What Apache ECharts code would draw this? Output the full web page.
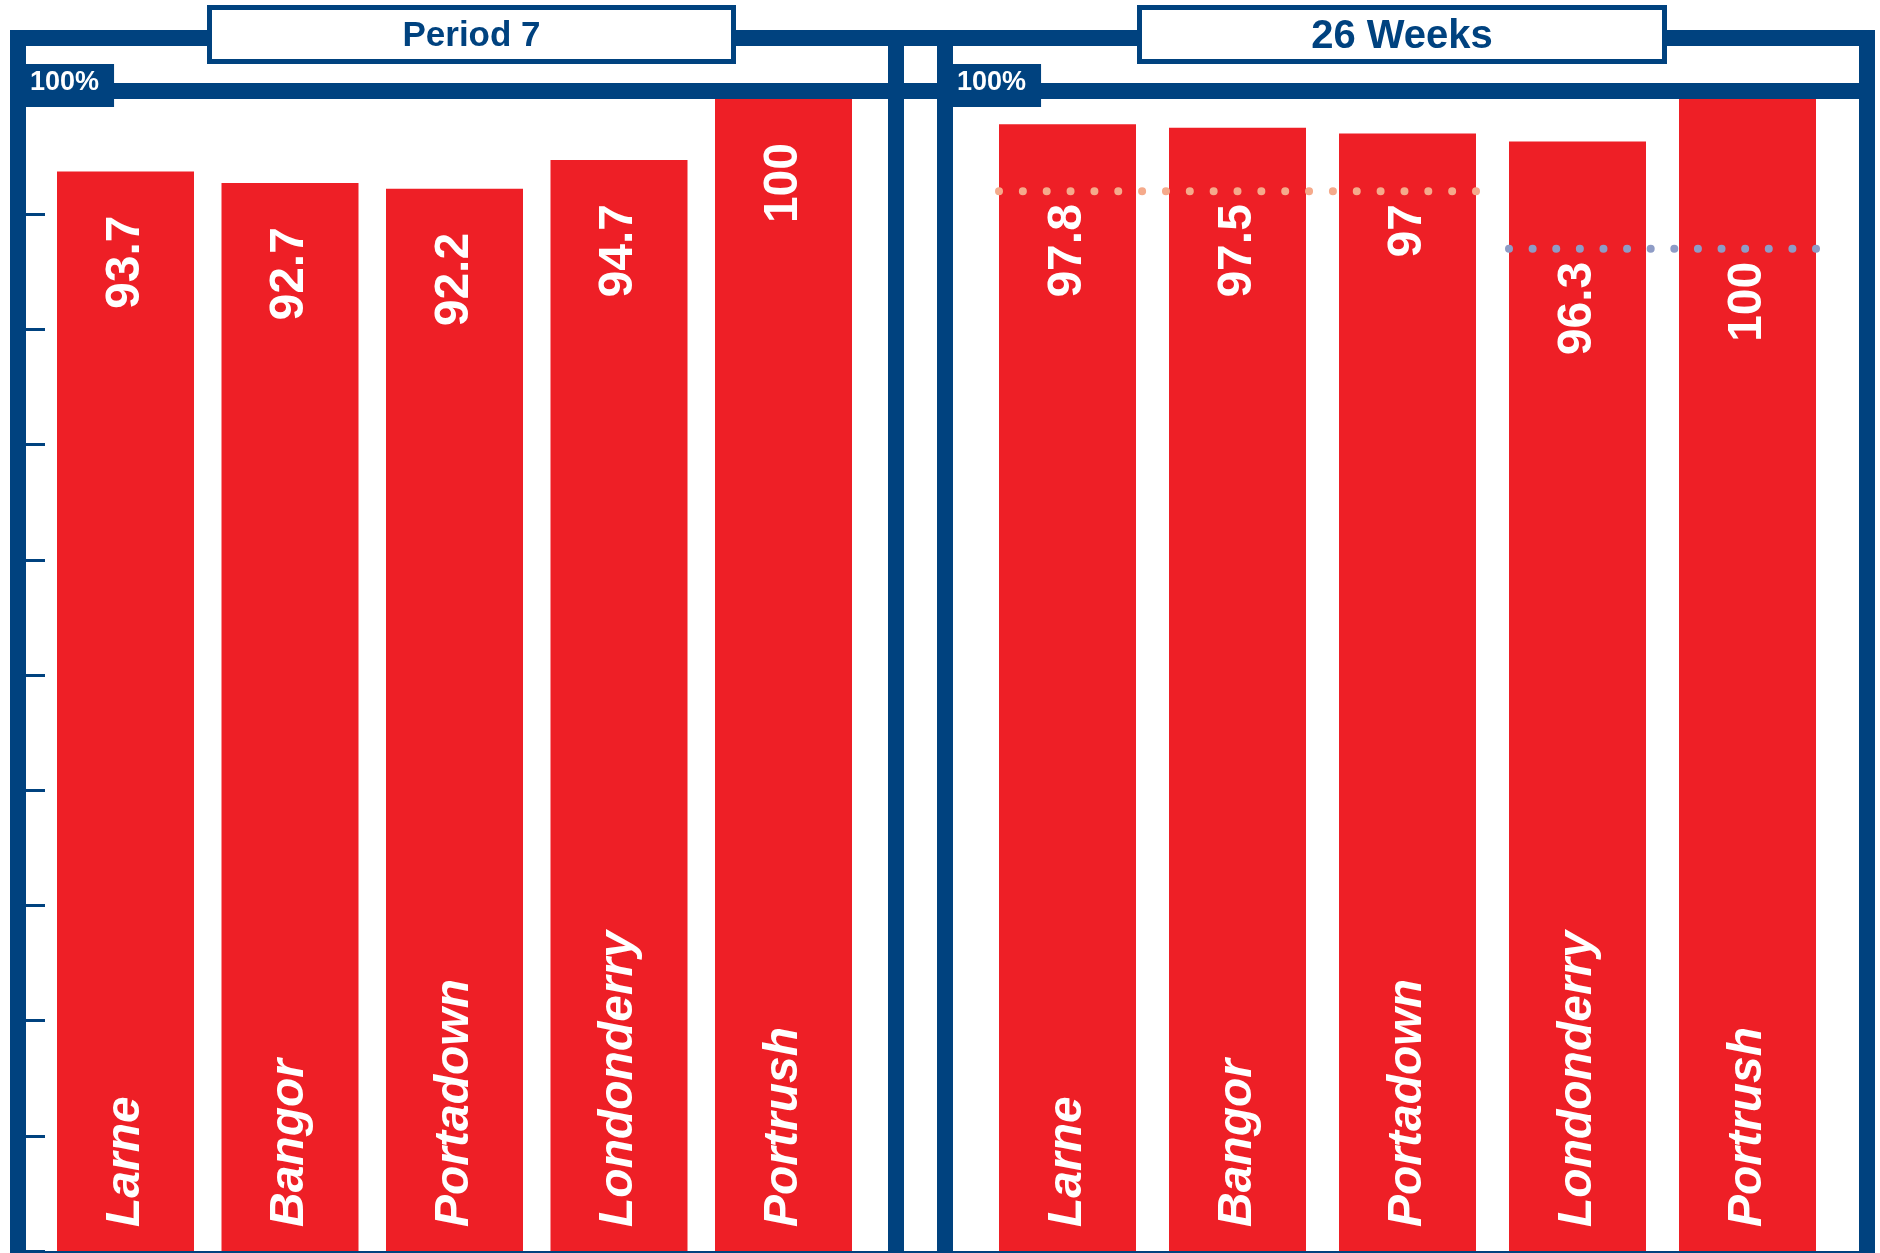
<!DOCTYPE html>
<html>
<head>
<meta charset="utf-8">
<script src="https://cdn.jsdelivr.net/npm/echarts@6/dist/echarts.min.js"></script>
<style>
html,body{margin:0;padding:0;background:#ffffff;}
#chart{width:1880px;height:1253px;}
</style>
</head>
<body>
<div id="chart"></div>
<script>
// ---------- data ----------
const categories = ['Larne', 'Bangor', 'Portadown', 'Londonderry', 'Portrush'];
const period7Values = [93.7, 92.7, 92.2, 94.7, 100];
const weeks26Values = [97.8, 97.5, 97, 96.3, 100];
const targetValues = [92, 87];
const targetFirstBar = [0, 3];
const targetLastBar = [2, 4];
const panelTitles = ['Period 7', '26 Weeks'];
const axisMin = 0;
const axisMax = 100;
const tickStep = 10;

// ---------- style ----------
const BLUE = '#00427f';
const RED = '#ee1f26';
const TARGET_COLORS = ['#f5aa8b', '#8e9cc6'];
const FONT = '"Liberation Sans", Arial, Helvetica, sans-serif';
const BAR_W = 137;

function targetFor(i) {
  for (let k = 0; k < targetValues.length; k++) {
    if (i >= targetFirstBar[k] && i <= targetLastBar[k]) return targetValues[k];
  }
  return null;
}

const chart = echarts.init(document.getElementById('chart'), null, { renderer: 'canvas' });

// decorative frame pieces [x, y, w, h]
const frameRects = [
  [10, 30, 1865, 16],
  [10, 83, 1865, 16],
  [10, 30, 16, 1223],
  [888, 30, 16, 1223],
  [937, 30, 16, 1223],
  [1859, 30, 16, 1223],
  [10, 1251, 1865, 2]
];
const titleBoxes = [
  { x: 209.5, y: 7.5, w: 524, h: 54, cx: 471.5, cy: 36, size: 35 },
  { x: 1139.5, y: 7.5, w: 525, h: 54, cx: 1402, cy: 37, size: 40 }
];

const graphics = [];
frameRects.forEach(r => graphics.push({
  type: 'rect', z: 1, silent: true,
  shape: { x: r[0], y: r[1], width: r[2], height: r[3] },
  style: { fill: BLUE }
}));
titleBoxes.forEach((b, i) => {
  graphics.push({
    type: 'rect', z: 6, silent: true,
    shape: { x: b.x, y: b.y, width: b.w, height: b.h },
    style: { fill: '#ffffff', stroke: BLUE, lineWidth: 5 }
  });
  graphics.push({
    type: 'text', z: 7, silent: true, x: b.cx, y: b.cy,
    style: { text: panelTitles[i], fill: BLUE, font: `bold ${b.size}px ${FONT}`, align: 'center', verticalAlign: 'middle' }
  });
});

function yAxisCfg(gridIndex, offset, ticks) {
  return {
    type: 'value', gridIndex: gridIndex, min: axisMin, max: axisMax, interval: tickStep,
    offset: offset, z: 5,
    axisLine: { show: false },
    splitLine: { show: false },
    axisTick: { show: ticks, inside: true, length: 27, lineStyle: { color: BLUE, width: 3 } },
    axisLabel: {
      inside: true, margin: 8, verticalAlign: 'bottom',
      formatter: v => (v === axisMax ? '{t|' + v + '%}' : ''),
      rich: {
        t: {
          backgroundColor: BLUE, color: '#ffffff', fontFamily: FONT, fontWeight: 'bold',
          fontSize: 27, lineHeight: 27, padding: [5, 15, 11, 4]
        }
      }
    }
  };
}

function xAxisCfg(gridIndex) {
  return {
    type: 'category', gridIndex: gridIndex, data: categories, z: 10,
    axisLine: { show: false }, axisTick: { show: false },
    axisLabel: {
      inside: true, rotate: 90, margin: 24, interval: 0,
      color: '#ffffff', fontFamily: FONT, fontWeight: 'bold', fontStyle: 'italic', fontSize: 48
    }
  };
}

const barLabelStyle = {
  color: '#ffffff', fontFamily: FONT, fontWeight: 'bold', fontSize: 48
};

const option = {
  animation: false,
  backgroundColor: '#ffffff',
  graphic: graphics,
  grid: [
    { left: 43.25, top: 99, width: 822.5, height: 1152 },
    { left: 982.5, top: 99, width: 850, height: 1152 }
  ],
  xAxis: [xAxisCfg(0), xAxisCfg(1)],
  yAxis: [yAxisCfg(0, 25.25, true), yAxisCfg(1, 37.5, false)],
  series: [
    {
      name: panelTitles[0], type: 'bar', xAxisIndex: 0, yAxisIndex: 0,
      data: period7Values, barWidth: BAR_W, z: 2,
      itemStyle: { color: RED },
      label: Object.assign({
        show: true, position: 'insideTop', distance: 44, rotate: 90,
        align: 'right', verticalAlign: 'middle'
      }, barLabelStyle)
    },
    {
      name: panelTitles[1], type: 'bar', xAxisIndex: 1, yAxisIndex: 1,
      data: weeks26Values, barWidth: BAR_W, z: 2,
      itemStyle: { color: RED },
      label: { show: false }
    },
    {
      name: 'values', type: 'custom', xAxisIndex: 1, yAxisIndex: 1, z: 4, silent: true,
      data: weeks26Values.map((v, i) => [i, targetFor(i), v]),
      encode: { x: 0, y: 1 },
      renderItem: function (params, api) {
        const p = api.coord([api.value(0), api.value(1)]);
        return {
          type: 'text', x: p[0], y: p[1] + 13, rotation: Math.PI / 2,
          style: {
            text: String(api.value(2)), align: 'right', verticalAlign: 'middle',
            fill: '#ffffff', font: `bold 48px ${FONT}`
          }
        };
      }
    },
    {
      name: 'targets', type: 'custom', xAxisIndex: 1, yAxisIndex: 1, z: 5, silent: true,
      data: targetValues.map((t, k) => [targetFirstBar[k], targetLastBar[k], t]),
      encode: { x: [0, 1], y: 2 },
      renderItem: function (params, api) {
        const s = api.coord([api.value(0), api.value(2)]);
        const e = api.coord([api.value(1), api.value(2)]);
        const x1 = s[0] - BAR_W / 2, x2 = e[0] + BAR_W / 2;
        const len = x2 - x1;
        const gap = len / Math.round(len / 24);
        return {
          type: 'line',
          shape: { x1: x1, y1: s[1], x2: x2 + 1, y2: e[1] },
          style: {
            stroke: TARGET_COLORS[params.dataIndex], lineWidth: 8, lineCap: 'round',
            lineDash: [0.01, gap - 0.01]
          }
        };
      }
    }
  ]
};

chart.setOption(option);
</script>
</body>
</html>
